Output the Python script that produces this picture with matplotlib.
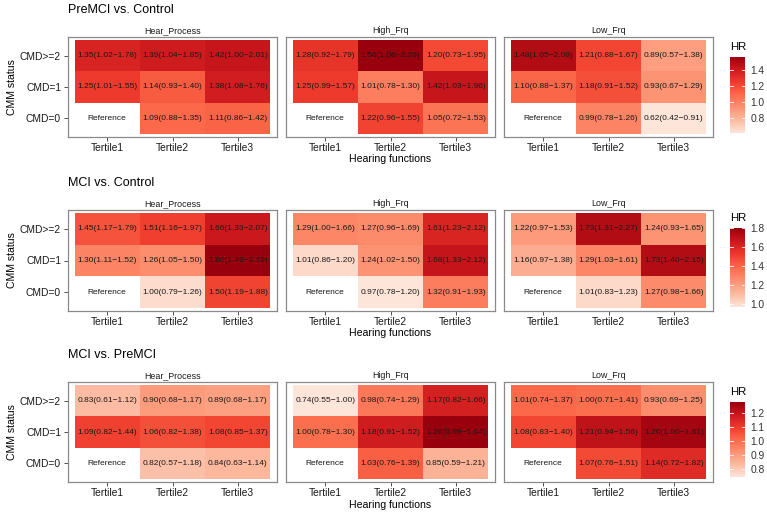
import numpy as np
import matplotlib
matplotlib.use("Agg")
import matplotlib.pyplot as plt
from matplotlib.colors import LinearSegmentedColormap, Normalize

plt.rcParams['font.family'] = ['Liberation Sans', 'DejaVu Sans']

# ---------------- data ----------------
comparisons = ["PreMCI vs. Control", "MCI vs. Control", "MCI vs. PreMCI"]
features = ["Hear_Process", "High_Frq", "Low_Frq"]
cmd_levels = ["CMD>=2", "CMD=1", "CMD=0"]   # top to bottom
tertiles = ["Tertile1", "Tertile2", "Tertile3"]
N = None  # reference cell

# [feature][cmd level][tertile]
hr_premci_control = [
    [[1.35, 1.39, 1.42], [1.25, 1.14, 1.38], [N, 1.09, 1.11]],
    [[1.28, 1.56, 1.20], [1.25, 1.01, 1.42], [N, 1.22, 1.05]],
    [[1.48, 1.21, 0.89], [1.10, 1.18, 0.93], [N, 0.99, 0.62]],
]
lo_premci_control = [
    [[1.02, 1.04, 1.00], [1.01, 0.93, 1.08], [N, 0.88, 0.86]],
    [[0.92, 1.06, 0.73], [0.99, 0.78, 1.03], [N, 0.96, 0.72]],
    [[1.05, 0.88, 0.57], [0.88, 0.91, 0.67], [N, 0.78, 0.42]],
]
hi_premci_control = [
    [[1.78, 1.85, 2.01], [1.55, 1.40, 1.76], [N, 1.35, 1.42]],
    [[1.79, 2.29, 1.95], [1.57, 1.30, 1.96], [N, 1.55, 1.53]],
    [[2.08, 1.67, 1.38], [1.37, 1.52, 1.29], [N, 1.26, 0.91]],
]

hr_mci_control = [
    [[1.45, 1.51, 1.66], [1.30, 1.26, 1.80], [N, 1.00, 1.50]],
    [[1.29, 1.27, 1.61], [1.01, 1.24, 1.68], [N, 0.97, 1.32]],
    [[1.22, 1.73, 1.24], [1.16, 1.29, 1.73], [N, 1.01, 1.27]],
]
lo_mci_control = [
    [[1.17, 1.16, 1.33], [1.11, 1.05, 1.49], [N, 0.79, 1.19]],
    [[1.00, 0.96, 1.23], [0.86, 1.02, 1.33], [N, 0.78, 0.91]],
    [[0.97, 1.31, 0.93], [0.97, 1.03, 1.40], [N, 0.83, 0.98]],
]
hi_mci_control = [
    [[1.79, 1.97, 2.07], [1.52, 1.50, 2.19], [N, 1.26, 1.88]],
    [[1.66, 1.69, 2.12], [1.20, 1.50, 2.12], [N, 1.20, 1.93]],
    [[1.53, 2.27, 1.65], [1.38, 1.61, 2.15], [N, 1.23, 1.66]],
]

hr_mci_premci = [
    [[0.83, 0.90, 0.89], [1.09, 1.06, 1.08], [N, 0.82, 0.84]],
    [[0.74, 0.98, 1.17], [1.00, 1.18, 1.28], [N, 1.03, 0.85]],
    [[1.01, 1.00, 0.93], [1.08, 1.21, 1.26], [N, 1.07, 1.14]],
]
lo_mci_premci = [
    [[0.61, 0.68, 0.68], [0.82, 0.82, 0.85], [N, 0.57, 0.63]],
    [[0.55, 0.74, 0.82], [0.78, 0.91, 0.99], [N, 0.76, 0.59]],
    [[0.74, 0.71, 0.69], [0.83, 0.94, 1.00], [N, 0.76, 0.72]],
]
hi_mci_premci = [
    [[1.12, 1.17, 1.17], [1.44, 1.38, 1.37], [N, 1.18, 1.14]],
    [[1.00, 1.29, 1.66], [1.30, 1.52, 1.64], [N, 1.39, 1.21]],
    [[1.37, 1.41, 1.25], [1.40, 1.56, 1.61], [N, 1.51, 1.82]],
]

colorbar_ticks = [
    [0.8, 1.0, 1.2, 1.4],
    [1.0, 1.2, 1.4, 1.6, 1.8],
    [0.8, 0.9, 1.0, 1.1, 1.2],
]

all_hr = [hr_premci_control, hr_mci_control, hr_mci_premci]
all_lo = [lo_premci_control, lo_mci_control, lo_mci_premci]
all_hi = [hi_premci_control, hi_mci_control, hi_mci_premci]

# ---------------- layout ----------------
W, H = 767, 514
fig = plt.figure(figsize=(W / 100, H / 100), dpi=100)

def rect(x0, y0, x1, y1):
    return [x0 / W, 1 - y1 / H, (x1 - x0) / W, (y1 - y0) / H]

cmap = LinearSegmentedColormap.from_list(
    "reds7", ["#FEE5D9", "#FCBBA1", "#FC9272", "#FB6A4A", "#EF3B2C", "#CB181D", "#99000D"])

panel_x = [(68, 277), (286, 495), (504, 713)]
row_y = [(37, 137), (210, 311), (382, 482)]
cbar_y = [(57, 133), (228, 307), (402, 477)]
border_col = "#8a8a8a"
text_col = "#1a1a1a"

for r in range(3):
    y0, y1 = row_y[r]
    hr_all = [v for f in all_hr[r] for row in f for v in row if v is not None]
    vmin, vmax = min(hr_all), max(hr_all)
    norm = Normalize(vmin, vmax)

    # comparison title
    fig.text(68 / W, 1 - (y0 - 27) / H, comparisons[r], fontsize=9,
             ha="left", va="center", color="black")

    for p in range(3):
        x0, x1 = panel_x[p]
        ax = fig.add_axes(rect(x0, y0, x1, y1))
        hr = all_hr[r][p]
        lo = all_lo[r][p]
        hi = all_hi[r][p]
        # array with row index 0 = bottom (CMD=0)
        arr = np.full((3, 3), np.nan)
        for i in range(3):
            for j in range(3):
                if hr[i][j] is not None:
                    arr[2 - i, j] = hr[i][j]
        marr = np.ma.masked_invalid(arr)
        ax.pcolormesh(np.arange(0.5, 4.0, 1.0), np.arange(0.5, 4.0, 1.0), marr,
                      cmap=cmap, norm=norm, shading="flat")
        for i in range(3):
            for j in range(3):
                if hr[i][j] is None:
                    lab = "Reference"
                else:
                    lab = f"{hr[i][j]:.2f}({lo[i][j]:.2f}\u2212{hi[i][j]:.2f})"
                ax.text(j + 1, 3 - i, lab, ha="center", va="center",
                        fontsize=6, color=text_col)
        ax.set_xlim(0.4, 3.6)
        ax.set_ylim(0.4, 3.6)
        ax.set_facecolor("white")
        for s in ax.spines.values():
            s.set_color(border_col)
            s.set_linewidth(0.9)
        ax.set_xticks([1, 2, 3])
        ax.set_xticklabels(tertiles, fontsize=7.4, color=text_col)
        ax.tick_params(axis="x", length=3, width=0.6, color="#333333", pad=1.5)
        if p == 0:
            ax.set_yticks([1, 2, 3])
            ax.set_yticklabels(cmd_levels[::-1], fontsize=7.4, color=text_col)
            ax.tick_params(axis="y", length=3, width=0.6, color="#333333", pad=2)
        else:
            ax.set_yticks([])
        ax.set_title(features[p], fontsize=6.4, color=text_col, pad=3)

    # axis titles
    fig.text(390 / W, 1 - (y1 + 22.5) / H, "Hearing functions", fontsize=7.6,
             ha="center", va="center", color="black")
    fig.text(12 / W, 1 - ((y0 + y1) / 2) / H, "CMM status", fontsize=7.6,
             ha="center", va="center", rotation=90, color="black")

    # colour bar
    cy0, cy1 = cbar_y[r]
    cax = fig.add_axes(rect(730, cy0, 745, cy1))
    grad = np.linspace(vmin, vmax, 256).reshape(-1, 1)
    cax.imshow(grad, cmap=cmap, norm=norm, aspect="auto", origin="lower",
               extent=(0, 1, vmin, vmax))
    cax.set_xlim(0, 1)
    cax.set_ylim(vmin, vmax)
    for s in cax.spines.values():
        s.set_visible(False)
    cax.set_xticks([])
    ticks = colorbar_ticks[r]
    cax.set_yticks(ticks)
    cax.set_yticklabels([f"{t:.1f}" for t in ticks], fontsize=7.4, color="#333333")
    cax.yaxis.tick_right()
    cax.tick_params(axis="y", length=0, pad=4)
    for t in ticks:
        cax.plot([0, 0.2], [t, t], color="white", lw=0.6)
        cax.plot([0.8, 1], [t, t], color="white", lw=0.6)
    fig.text(730 / W, 1 - (cy0 - 10) / H, "HR", fontsize=8.2,
             ha="left", va="center", color="black")

fig.savefig("out.png", dpi=100)
